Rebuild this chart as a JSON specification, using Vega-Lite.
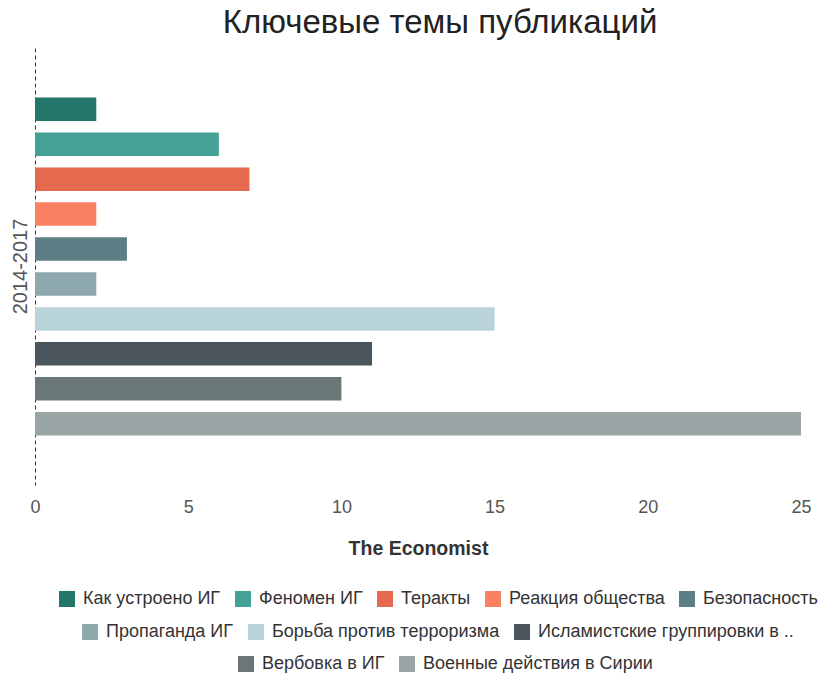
{
  "$schema": "https://vega.github.io/schema/vega-lite/v6.json",
  "width": 766,
  "height": 437,
  "autosize": {"type": "none"},
  "padding": {"left": 35, "top": 48, "right": 28, "bottom": 192},
  "background": "white",
  "title": {"text": "Ключевые темы публикаций", "fontSize": 33, "fontWeight": "normal", "color": "#222", "anchor": "middle", "offset": 8, "dx": 22},
  "data": {"values": [
    {"period": "2014-2017", "topic": "Как устроено ИГ", "value": 2, "row": 1},
    {"period": "2014-2017", "topic": "Феномен ИГ", "value": 6, "row": 1},
    {"period": "2014-2017", "topic": "Теракты", "value": 7, "row": 1},
    {"period": "2014-2017", "topic": "Реакция общества", "value": 2, "row": 1},
    {"period": "2014-2017", "topic": "Безопасность", "value": 3, "row": 1},
    {"period": "2014-2017", "topic": "Пропаганда ИГ", "value": 2, "row": 2},
    {"period": "2014-2017", "topic": "Борьба против терроризма", "value": 15, "row": 2},
    {"period": "2014-2017", "topic": "Исламистские группировки в ..", "value": 11, "row": 2},
    {"period": "2014-2017", "topic": "Вербовка в ИГ", "value": 10, "row": 3},
    {"period": "2014-2017", "topic": "Военные действия в Сирии", "value": 25, "row": 3}
  ]},
  "encoding": {
    "x": {"field": "value", "type": "quantitative", "scale": {"domain": [0, 25], "nice": false},
      "axis": {"values": [0, 5, 10, 15, 20, 25], "domain": false, "ticks": false, "grid": false, "labelFlush": false, "labelFontSize": 18, "labelColor": "#555", "labelPadding": 13, "title": "The Economist", "titleFontSize": 19.5, "titleFontWeight": "bold", "titleColor": "#333", "titlePadding": 23}},
    "y": {"field": "period", "type": "nominal", "scale": {"paddingInner": 0, "paddingOuter": 0.1255},
      "axis": {"title": null, "ticks": false, "domainDash": [4, 3], "domainColor": "#333", "domainWidth": 1, "labelAngle": 270, "labelFontSize": 20, "labelColor": "#555", "labelPadding": 5}},
    "yOffset": {"field": "topic", "type": "nominal", "sort": null,
      "scale": {"domain": ["Как устроено ИГ", "Феномен ИГ", "Теракты", "Реакция общества", "Безопасность", "Пропаганда ИГ", "Борьба против терроризма", "Исламистские группировки в ..", "Вербовка в ИГ", "Военные действия в Сирии"], "paddingInner": 0.327, "paddingOuter": 0.1635}}
  },
  "layer": [
    {
      "transform": [{"filter": "datum.row == 1"}],
      "mark": {"type": "bar"},
      "encoding": {
        "color": {"field": "topic", "type": "nominal", "sort": null,
          "scale": {"domain": ["Как устроено ИГ", "Феномен ИГ", "Теракты", "Реакция общества", "Безопасность"], "range": ["#22776a", "#45a196", "#e4694e", "#f98062", "#5c7f86"]},
          "legend": {"orient": "none", "legendX": 23, "legendY": 542}}
      }
    },
    {
      "transform": [{"filter": "datum.row == 2"}],
      "mark": {"type": "bar"},
      "encoding": {
        "color": {"field": "topic", "type": "nominal", "sort": null,
          "scale": {"domain": ["Пропаганда ИГ", "Борьба против терроризма", "Исламистские группировки в .."], "range": ["#8ea9ae", "#b9d3da", "#4a565c"]},
          "legend": {"orient": "none", "legendX": 46, "legendY": 575}}
      }
    },
    {
      "transform": [{"filter": "datum.row == 3"}],
      "mark": {"type": "bar"},
      "encoding": {
        "color": {"field": "topic", "type": "nominal", "sort": null,
          "scale": {"domain": ["Вербовка в ИГ", "Военные действия в Сирии"], "range": ["#697877", "#99a4a4"]},
          "legend": {"orient": "none", "legendX": 202, "legendY": 607}}
      }
    }
  ],
  "resolve": {"scale": {"color": "independent"}, "legend": {"color": "independent"}},
  "config": {
    "font": "Liberation Sans",
    "view": {"stroke": null},
    "legend": {"title": null, "direction": "horizontal", "symbolType": "square", "symbolSize": 256, "symbolStrokeWidth": 0, "symbolOpacity": 1, "labelFontSize": 18, "labelColor": "#333", "columnPadding": 13, "labelOffset": 7, "labelLimit": 300}
  }
}
